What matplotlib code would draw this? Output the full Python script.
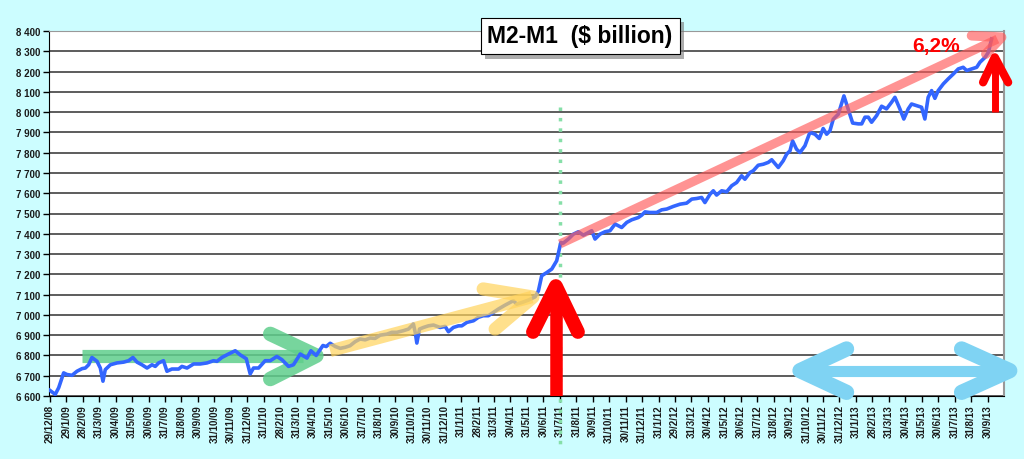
import matplotlib
matplotlib.use("Agg")
import matplotlib.pyplot as plt
from matplotlib.ticker import FuncFormatter, MultipleLocator
import matplotlib.patheffects as pe

plt.rcParams['font.family'] = ['Liberation Sans', 'DejaVu Sans']

# month labels on the category axis (month-end dates)
tick_labels = [
    "29/12/08", "29/1/09", "28/2/09", "31/3/09", "30/4/09", "31/5/09", "30/6/09",
    "31/7/09", "31/8/09", "30/9/09", "31/10/09", "30/11/09", "31/12/09",
    "31/1/10", "28/2/10", "31/3/10", "30/4/10", "31/5/10", "30/6/10", "31/7/10",
    "31/8/10", "30/9/10", "31/10/10", "30/11/10", "31/12/10",
    "31/1/11", "28/2/11", "31/3/11", "30/4/11", "31/5/11", "30/6/11", "31/7/11",
    "31/8/11", "30/9/11", "31/10/11", "30/11/11", "31/12/11",
    "31/1/12", "29/2/12", "31/3/12", "30/4/12", "31/5/12", "30/6/12", "31/7/12",
    "31/8/12", "30/9/12", "31/10/12", "30/11/12", "31/12/12",
    "31/1/13", "28/2/13", "31/3/13", "30/4/13", "31/5/13", "30/6/13", "31/7/13",
    "31/8/13", "30/9/13",
]

# M2-M1, $ billion (x = months since 29/12/08)
months = [
    0.0, 0.33, 0.54, 0.84, 1.04, 1.35, 1.65, 1.96, 2.16, 2.36, 2.56, 2.87, 3.07, 3.23,
    3.37, 3.68, 4.08, 4.48, 4.79, 5.05, 5.30, 5.60, 5.91, 6.21, 6.41, 6.61, 6.91, 7.12,
    7.42, 7.83, 8.03, 8.34, 8.74, 9.14, 9.55, 9.95, 10.16, 10.46, 10.86, 11.27, 11.57,
    11.94, 12.18, 12.38, 12.69, 13.09, 13.40, 13.80, 14.11, 14.51, 14.81, 15.22, 15.63,
    15.87, 16.19, 16.60, 16.80, 17.04, 17.35, 17.65, 17.95, 18.25, 18.56, 18.86, 19.17,
    19.47, 19.77, 20.08, 20.49, 20.79, 21.09, 21.49, 21.80, 22.10, 22.21, 22.31, 22.47,
    22.71, 23.01, 23.32, 23.72, 24.03, 24.23, 24.53, 24.84, 25.04, 25.35, 25.75, 26.05,
    26.35, 26.66, 26.96, 27.27, 27.67, 27.98, 28.18, 28.38, 28.69, 29.09, 29.50, 29.70,
    29.90, 30.21, 30.51, 30.81, 30.97, 31.06, 31.21, 31.52, 31.82, 32.13, 32.43, 32.73,
    32.94, 33.14, 33.44, 33.75, 34.05, 34.36, 34.76, 35.07, 35.37, 35.77, 35.98, 36.18,
    36.48, 36.89, 37.19, 37.50, 37.90, 38.31, 38.71, 39.02, 39.32, 39.62, 39.82, 40.13,
    40.33, 40.53, 40.84, 41.14, 41.45, 41.75, 42.05, 42.25, 42.56, 42.76, 43.06, 43.37,
    43.67, 43.88, 44.28, 44.58, 44.79, 44.99, 45.15, 45.39, 45.60, 45.90, 46.20, 46.51,
    46.77, 47.01, 47.22, 47.42, 47.62, 47.93, 48.27, 48.53, 48.80, 49.14, 49.35, 49.55,
    49.75, 49.95, 50.26, 50.56, 50.86, 51.17, 51.37, 51.67, 51.91, 52.18, 52.38, 52.68,
    52.99, 53.19, 53.39, 53.60, 53.80, 54.00, 54.31, 54.61, 54.92, 55.22, 55.52, 55.73,
    56.03, 56.34, 56.54, 56.85, 57.05, 57.25,
]
m2_m1 = [
    6628, 6608, 6641, 6714, 6706, 6702, 6722, 6735, 6738, 6754, 6790, 6771, 6738, 6673,
    6730, 6754, 6763, 6767, 6774, 6790, 6767, 6754, 6738, 6754, 6746, 6763, 6774, 6722,
    6733, 6733, 6746, 6738, 6758, 6758, 6763, 6774, 6771, 6790, 6807, 6823, 6803,
    6784, 6709, 6738, 6738, 6774, 6774, 6795, 6779, 6746, 6754, 6807, 6787,
    6823, 6800, 6849, 6844, 6860, 6844, 6835, 6840, 6848, 6868, 6881, 6877,
    6886, 6884, 6900, 6905, 6914, 6914, 6922, 6930, 6955, 6914, 6861, 6930,
    6938, 6946, 6950, 6938, 6943, 6917, 6938, 6946, 6946, 6963, 6971, 6988,
    6996, 6996, 7012, 7029, 7048, 7061, 7070, 7053, 7061, 7073, 7089, 7119,
    7193, 7209, 7226, 7267, 7324, 7357, 7354, 7374, 7398, 7410, 7393, 7406,
    7415, 7374, 7398, 7410, 7415, 7448, 7431, 7456, 7469, 7480, 7492, 7508,
    7505, 7505, 7518, 7522, 7535, 7546, 7551, 7571, 7574, 7579, 7554, 7595,
    7612, 7591, 7612, 7607, 7637, 7653, 7686, 7669, 7702, 7711, 7738, 7743,
    7752, 7765, 7727, 7760, 7793, 7809, 7858, 7817, 7801, 7834, 7900, 7891,
    7870, 7919, 7891, 7908, 7965, 7990, 8080, 8015, 7946, 7942, 7942, 7975,
    7975, 7950, 7983, 8029, 8016, 8049, 8073, 8016, 7966, 8016, 8040, 8032,
    8024, 7966, 8073, 8106, 8068, 8106, 8139, 8164, 8188, 8213, 8221, 8205,
    8213, 8221, 8246, 8270, 8295, 8361,
]

# hand-drawn trend arrows (month, value)
green_shaft = ([1.97, 15.4], [6798, 6798])
green_head = ([13.4, 16.2, 13.4], [6906, 6799, 6684])
yellow_shaft = ([17.04, 29.3], [6823, 7088])
yellow_head = ([26.34, 29.37, 27.07], [7128, 7088, 6930])
pink_shaft = ([31.01, 57.6], [7350, 8360])
pink_head = ([56.03, 57.85, 56.9], [8377, 8369, 8287])
red_shaft = ([30.76, 30.76], [6600, 7120])
red_head = ([29.37, 30.76, 32.1], [6916, 7142, 6916])
small_shaft = ([57.44, 57.44], [7999, 8240])
small_head = ([56.73, 57.44, 58.25], [8147, 8270, 8147])
blue_shaft = ([45.8, 58.2], [6725, 6725])
blue_left = ([48.43, 45.6, 48.43], [6832, 6725, 6618])
blue_right = ([55.42, 58.35, 55.42], [6832, 6725, 6618])
july11 = 31

fig = plt.figure(figsize=(10.24, 4.6), dpi=100, facecolor='#ccfdff')
ax = fig.add_axes([49 / 1024, 63 / 460, 955 / 1024, 365 / 460])
ax.set_facecolor('white')

ax.plot(months, m2_m1, color='#3366ff', lw=2.6, zorder=3, solid_joinstyle='round')

# green flat arrow (behind the line)
kw = dict(solid_capstyle='round', solid_joinstyle='round', clip_on=False)
ax.plot(*green_shaft, color='#5fce8c', lw=9.5, alpha=0.85, zorder=2, solid_capstyle='butt')
ax.plot(*green_head, color='#5fce8c', lw=10.5, alpha=0.85, zorder=2, **kw)
# yellow rising arrow
ax.plot(*yellow_shaft, color='#ffd35c', lw=9, alpha=0.7, zorder=4, solid_capstyle='butt')
ax.plot(*yellow_head, color='#ffd35c', lw=9.5, alpha=0.7, zorder=4, **kw)
# pink trend arrow
ax.plot(*pink_shaft, color='#ff5a5a', lw=6.5, alpha=0.65, zorder=4, solid_capstyle='butt')
ax.plot(*pink_head, color='#ff5a5a', lw=7, alpha=0.65, zorder=4, **kw)
# green dotted line at 31/7/11
ax.plot([july11, july11], [8025, 6360], color='#86dfa8', lw=2.5, ls=(0, (1, 2)),
        zorder=2, clip_on=False)
# red up arrows
ax.plot(*red_shaft, color='#ff0000', lw=9, zorder=5, solid_capstyle='butt')
ax.plot(*red_head, color='#ff0000', lw=10, zorder=5, **kw)
ax.plot(*small_shaft, color='#ff0000', lw=5, zorder=5, solid_capstyle='butt', clip_on=False)
ax.plot(*small_head, color='#ff0000', lw=6, zorder=5, **kw)
# light blue double arrow
ax.plot(*blue_shaft, color='#7fd3f3', lw=8, zorder=4, solid_capstyle='butt', clip_on=False)
ax.plot(*blue_left, color='#7fd3f3', lw=11, zorder=4, **kw)
ax.plot(*blue_right, color='#7fd3f3', lw=11, zorder=4, **kw)

ax.text(53.9, 8330, "6,2%", color='#ff0000', fontsize=15, fontweight='bold',
        ha='center', va='center', zorder=6)

ax.set_xlim(-0.05, 58)
ax.set_ylim(6600, 8400)
ax.yaxis.set_major_locator(MultipleLocator(100))
ax.yaxis.set_major_formatter(FuncFormatter(lambda v, p: f"{v:,.0f}".replace(",", " ")))
ax.set_xticks(range(len(tick_labels)))
ax.set_xticklabels(tick_labels, rotation=90, ha='center', va='top')
ax.grid(axis='y', color='#303030', lw=1.1)
ax.set_axisbelow(True)
ax.tick_params(axis='both', direction='out', length=4, width=1, color='black',
               labelsize=7, labelcolor='#1a1a1a', pad=2)
for lbl in ax.get_xticklabels() + ax.get_yticklabels():
    lbl.set_fontweight('bold')
ax.spines['left'].set_color('black')
ax.spines['bottom'].set_color('black')
ax.spines['top'].set_color('#999999')
ax.spines['right'].set_color('#999999')
ax.spines['right'].set_linewidth(1.5)

title = fig.text(580 / 1024, 1 - 37 / 460, "M2-M1  ($ billion)", fontsize=16.5,
                 fontweight='bold', ha='center', va='center', zorder=10,
                 bbox=dict(boxstyle='square,pad=0.3', fc='white', ec='black', lw=0.8))
title.get_bbox_patch().set_path_effects([
    pe.SimplePatchShadow(offset=(3, -3), shadow_rgbFace='#777777', alpha=0.6),
    pe.Normal()])

fig.savefig("out.png", dpi=100, facecolor=fig.get_facecolor())
